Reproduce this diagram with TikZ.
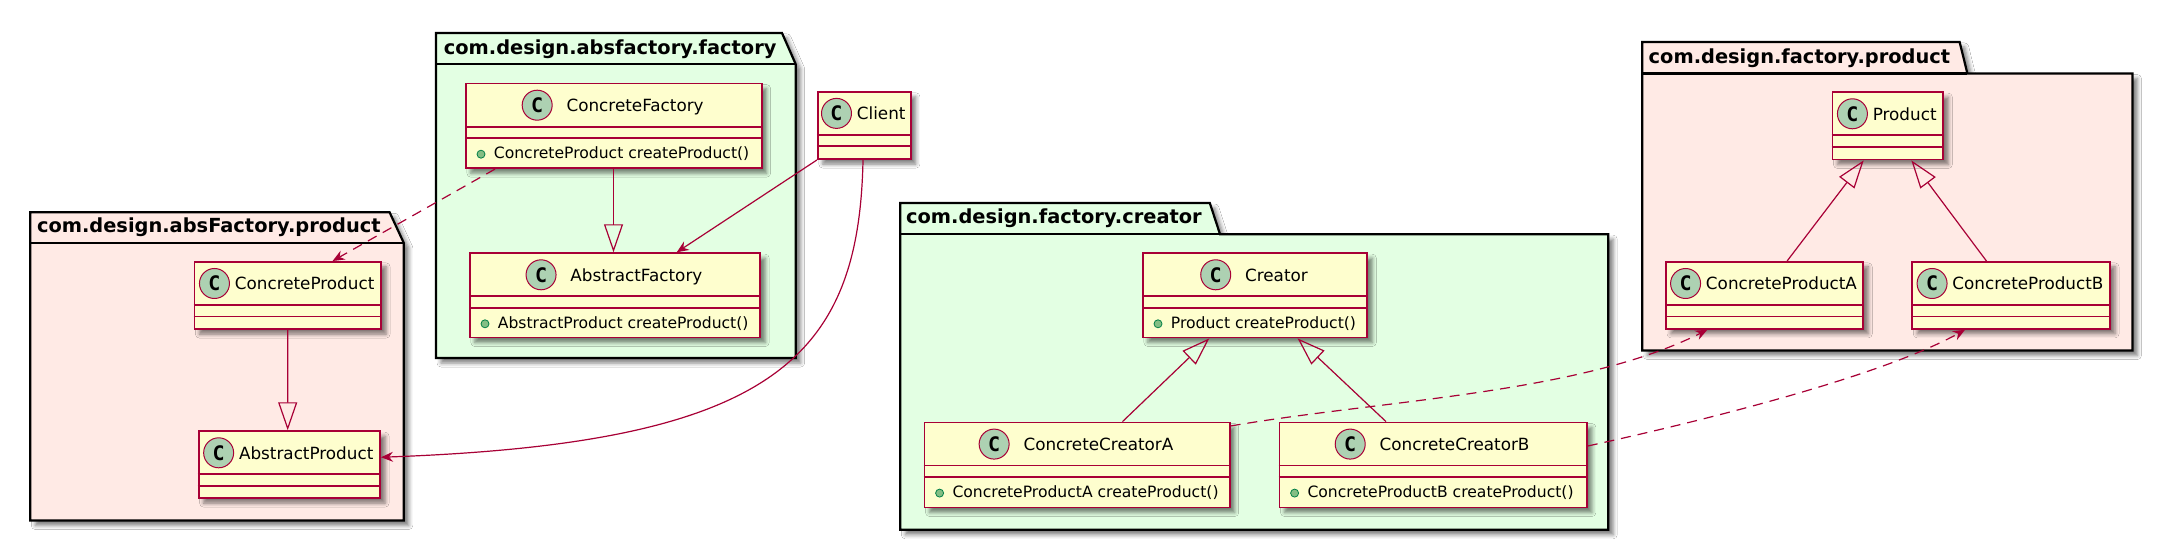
\documentclass[tikz,border=0pt]{standalone}
\usepackage{fontspec}
\setmainfont{DejaVu Sans}
\newfontfamily\iconfont{DejaVu Sans Mono}
\usetikzlibrary{arrows.meta,shadows.blur}

\definecolor{clsred}{HTML}{A80036}
\definecolor{clsfill}{HTML}{FEFECE}
\definecolor{iconfill}{HTML}{ADD1B2}
\definecolor{pkggreen}{HTML}{E3FFE3}
\definecolor{pkgpink}{HTML}{FFEAE5}
\definecolor{dotfill}{HTML}{84BE84}
\definecolor{dotdraw}{HTML}{038048}

\tikzset{
 shd/.style={blur shadow={shadow xshift=2.5pt, shadow yshift=-2.5pt, shadow blur radius=2pt, shadow opacity=50}},
 clsbox/.style={rectangle, draw=clsred, fill=clsfill, line width=0.9pt, inner sep=0pt, shd},
 clsline/.style={draw=clsred, line width=0.9pt},
 clsname/.style={inner sep=0pt, font=\fontsize{8.4pt}{10pt}\selectfont},
 clsicon/.style={circle, draw=clsred, fill=iconfill, line width=0.5pt, minimum size=15pt, inner sep=0pt, font=\iconfont\bfseries\fontsize{10pt}{10pt}\selectfont},
 methtext/.style={inner sep=0pt, font=\fontsize{7.8pt}{9pt}\selectfont},
 methdot/.style={circle, draw=dotdraw, fill=dotfill, line width=0.4pt, minimum size=4pt, inner sep=0pt},
 pkgshape/.style={draw=black, line width=1.1pt, shd},
 pkgline/.style={draw=black, line width=1.1pt},
 pkgtitle/.style={inner sep=0pt, anchor=base west, font=\bfseries\fontsize{9.7pt}{11pt}\selectfont},
 edge/.style={draw=clsred, line width=0.6pt},
 dep/.style={edge, dash pattern=on 5pt off 3.5pt, -{Stealth[length=6pt,width=5pt,inset=2pt]}},
 assoc/.style={edge, -{Stealth[length=6pt,width=5pt,inset=2pt]}},
 inherit/.style={edge, -{Triangle[open,length=14pt,width=9.5pt]}},
}

% #1 id, #2 x1, #3 y1, #4 x2, #5 y2, #6 name, #7 gap, #8 method
\newcommand{\umlcls}[8]{%
 \node[clsbox, minimum width={(#4-#2)*0.5pt}, minimum height={(#5-#3)*0.5pt}, anchor=north west] (#1) at (#2,#3) {};
 \draw[clsline] (#2,{#3+44}) -- (#4,{#3+44});
 \draw[clsline] (#2,{#3+55.5}) -- (#4,{#3+55.5});
 \node[clsname, anchor=base] (#1-n) at ({(#2+#4)/2+(#7+15.5)/2},{#3+28.8}) {#6};
 \node[clsicon] (#1-i) at ([shift={(-#7,-6.3)}]#1-n.base west) {C};
 \ifx\relax#8\relax\else
  \node[methdot] (#1-d) at ({#2+16},{#3+71.5}) {};
  \node[methtext, anchor=base west] (#1-m) at ({#2+28.5},{#3+76}) {#8};
 \fi
}

\begin{document}
\begin{tikzpicture}[x=0.5pt,y=-0.5pt]
\useasboundingbox (0,0) rectangle (2161,544);
\fill[white] (0,0) rectangle (2161,544);

% packages
\path[pkgshape, fill=pkggreen] (436,33) -- (782,33) -- (795.7,64.2) -- (795.7,358) -- (436,358) -- cycle;
\draw[pkgline] (436,64.2) -- (795.7,64.2);
\node[pkgtitle] (t1) at (443.5,54.8) {com.design.absfactory.factory};

\path[pkgshape, fill=pkgpink] (30.3,212.3) -- (389.6,212.3) -- (403.8,243) -- (403.8,520.5) -- (30.3,520.5) -- cycle;
\draw[pkgline] (30.3,243) -- (403.8,243);
\node[pkgtitle] (t2) at (36.6,232.5) {com.design.absFactory.product};

\path[pkgshape, fill=pkggreen] (900.3,203) -- (1209.8,203) -- (1220,234.2) -- (1608.2,234.2) -- (1608.2,529.8) -- (900.3,529.8) -- cycle;
\draw[pkgline] (900.3,234.2) -- (1220,234.2);
\node[pkgtitle] (t3) at (905.7,223.8) {com.design.factory.creator};

\path[pkgshape, fill=pkgpink] (1642.2,42) -- (1959.6,42) -- (1967.4,73.6) -- (2132.4,73.6) -- (2132.4,350.5) -- (1642.2,350.5) -- cycle;
\draw[pkgline] (1642.2,73.6) -- (1967.4,73.6);
\node[pkgtitle] (t4) at (1648.3,63.5) {com.design.factory.product};

% classes
\umlcls{cf}{465}{82.7}{760.7}{167.3}{ConcreteFactory}{29}{ConcreteProduct createProduct()}
\umlcls{af}{469}{252.3}{759.3}{336.7}{AbstractFactory}{29}{AbstractProduct createProduct()}
\umlcls{cp}{193.5}{261}{380.2}{328.2}{ConcreteProduct}{20}{}
\umlcls{ap}{197.7}{430.3}{379.2}{497.2}{AbstractProduct}{20}{}
\umlcls{cl}{816.9}{90.9}{910}{158.2}{Client}{20}{}
\umlcls{cr}{1142}{252.3}{1366.4}{336.6}{Creator}{29}{Product createProduct()}
\umlcls{cca}{923.6}{421.6}{1228.8}{506.6}{ConcreteCreatorA}{29}{ConcreteProductA createProduct()}
\umlcls{ccb}{1278.6}{421.6}{1586}{506.6}{ConcreteCreatorB}{29}{ConcreteProductB createProduct()}
\umlcls{pr}{1831.5}{91.3}{1942.4}{158.6}{Product}{20}{}
\umlcls{cpa}{1665.1}{261}{1862.3}{328}{ConcreteProductA}{20}{}
\umlcls{cpb}{1911.3}{261}{2109.1}{328}{ConcreteProductB}{20}{}

% edges
\draw[inherit] ([xshift=74.25pt]cf.south west) -- ([xshift=72.25pt]af.north west);
\draw[dep] ([xshift=15pt]cf.south west) -- ([xshift=69.55pt]cp.north west);
\draw[inherit] ([xshift=47.1pt]cp.south west) -- ([xshift=45pt]ap.north west);
\draw[assoc] (cl.south west) -- ([xshift=103.85pt]af.north west);
\draw[assoc] ([xshift=23.05pt]cl.south west) .. controls +(-4,200) and +(390,-14) .. ([yshift=3.7pt]ap.east);
\draw[inherit] ([xshift=99.45pt]cca.north west) -- ([xshift=33.65pt]cr.south west);
\draw[inherit] ([xshift=53.7pt]ccb.north west) -- ([xshift=77.8pt]cr.south west);
\draw[inherit] ([xshift=61pt]cpa.north west) -- ([xshift=16.1pt]pr.south west);
\draw[inherit] ([xshift=37.55pt]cpb.north west) -- ([xshift=39.9pt]pr.south west);
\draw[dep] ([yshift=-2.2pt]cca.north east) .. controls +(151.2,-26) and +(-127.3,64) .. ([xshift=21.1pt]cpa.south west);
\draw[dep] ([yshift=9.5pt]ccb.east) .. controls +(114,-25) and +(-85,47) .. ([xshift=26.85pt]cpb.south west);
\end{tikzpicture}
\end{document}
